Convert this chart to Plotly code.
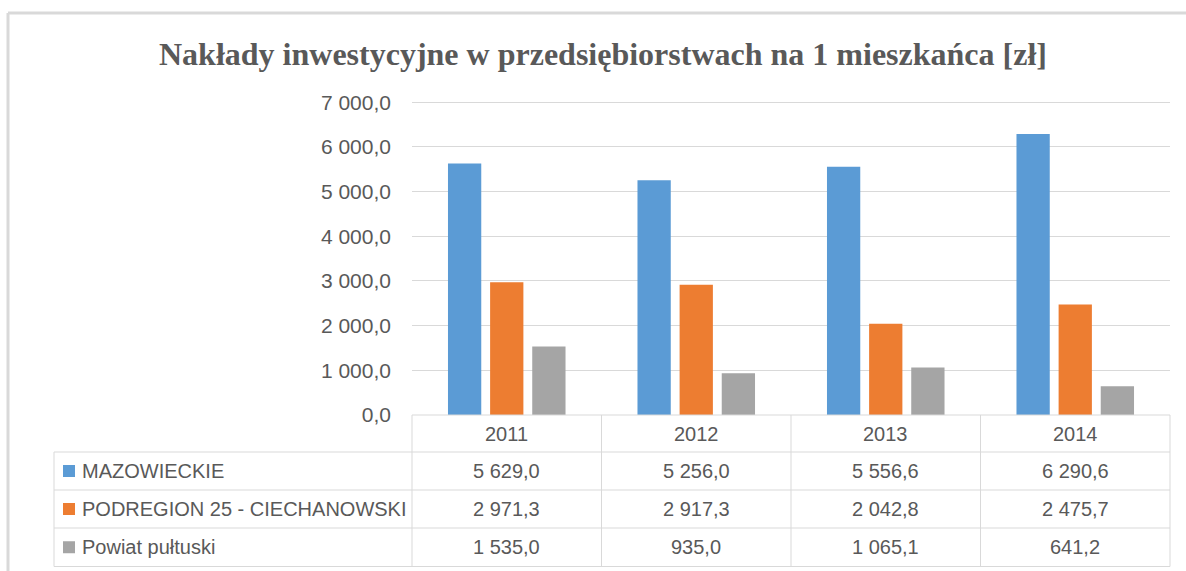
import plotly.graph_objects as go

years = ["2011", "2012", "2013", "2014"]
series_names = ["MAZOWIECKIE", "PODREGION 25 - CIECHANOWSKI", "Powiat pułtuski"]
mazowieckie = [5629.0, 5256.0, 5556.6, 6290.6]
ciechanowski = [2971.3, 2917.3, 2042.8, 2475.7]
pultuski = [1535.0, 935.0, 1065.1, 641.2]
colors = ["#5b9bd5", "#ed7d31", "#a5a5a5"]
title = "Nakłady inwestycyjne w przedsiębiorstwach na 1 mieszkańca [zł]"

series = [mazowieckie, ciechanowski, pultuski]

W, H = 1186, 571
L, R, T, B = 412, 16, 100, 156
PW, PH = W - L - R, H - T - B
TXT = "#595959"
GRID = "#d9d9d9"
FONT = "Liberation Sans"
FS = 20
N = len(years)


def px(xp):
    return (xp - L) / PW


def py(yp):
    return (H - B - yp) / PH


def fmt(v):
    return f"{v:,.1f}".replace(",", " ").replace(".", ",")


fig = go.Figure()
for name, vals, c in zip(series_names, series, colors):
    fig.add_trace(go.Bar(x=years, y=vals, name=name, marker_color=c,
                         marker_line_width=0, showlegend=False))

shapes = []
annotations = []
line = dict(color=GRID, width=1)
# table horizontal lines
row_y = [415, 452, 490, 528, 566.5]
shapes.append(dict(type="line", xref="paper", yref="paper", x0=0, x1=1,
                   y0=py(row_y[0]), y1=py(row_y[0]), line=line))
for yy in row_y[1:]:
    shapes.append(dict(type="line", xref="paper", yref="paper", x0=px(54), x1=1,
                       y0=py(yy), y1=py(yy), line=line))
# vertical lines
for i in range(N + 1):
    shapes.append(dict(type="line", xref="paper", yref="paper", x0=i / N,
                       x1=i / N, y0=py(415), y1=py(566.5), line=line))
shapes.append(dict(type="line", xref="paper", yref="paper", x0=px(54), x1=px(54),
                   y0=py(452), y1=py(566.5), line=line))

# header years
for i, yr in enumerate(years):
    annotations.append(dict(x=(i + 0.5) / N, xref="paper", y=py(433.5), yref="paper", text=yr,
                            showarrow=False, font=dict(family=FONT, size=FS, color=TXT),
                            xanchor="center", yanchor="middle"))
# rows
for r, (name, vals, c) in enumerate(zip(series_names, series, colors)):
    cy = (row_y[r + 1] + row_y[r + 2]) / 2
    shapes.append(dict(type="rect", xref="paper", yref="paper", x0=px(63), x1=px(75),
                       y0=py(cy + 6), y1=py(cy - 6), fillcolor=c, line=dict(width=0)))
    annotations.append(dict(x=px(80), xref="paper", y=py(cy), yref="paper", text=name,
                            showarrow=False, font=dict(family=FONT, size=FS, color=TXT),
                            xanchor="left", yanchor="middle"))
    for i, v in enumerate(vals):
        annotations.append(dict(x=(i + 0.5) / N, xref="paper", y=py(cy), yref="paper",
                                text=fmt(v), showarrow=False,
                                font=dict(family=FONT, size=FS, color=TXT),
                                xanchor="center", yanchor="middle"))

# outer frame
frame = dict(color="#d9d9d9", width=3)
shapes.append(dict(type="line", xref="paper", yref="paper", x0=px(8), x1=px(8),
                   y0=py(571), y1=py(13), line=frame))
shapes.append(dict(type="line", xref="paper", yref="paper", x0=px(8), x1=px(1186),
                   y0=py(13), y1=py(13), line=frame))

annotations.append(dict(x=px(603), xref="paper", y=py(54), yref="paper", text=f"<b>{title}</b>",
                        showarrow=False, font=dict(family="Liberation Serif", size=32, color=TXT),
                        xanchor="center", yanchor="middle"))

fig.update_layout(
    width=W, height=H,
    margin=dict(l=L, r=R, t=T, b=B, autoexpand=False),
    plot_bgcolor="white", paper_bgcolor="white",
    barmode="group", bargap=0.333, bargroupgap=0.21,
    separators=", ",
    shapes=shapes, annotations=annotations,
    xaxis=dict(type="category", range=[-0.5, N - 0.5], showticklabels=False, showgrid=False,
               zeroline=False, showline=False, ticks=""),
    yaxis=dict(range=[0, 7050], tickvals=[0, 1000, 2000, 3000, 4000, 5000, 6000, 7000],
               tickformat=",.1f", showgrid=True,
               gridcolor=GRID, gridwidth=1, zeroline=False, showline=False, ticks="",
               ticklabelstandoff=20,
               tickfont=dict(family=FONT, size=21, color=TXT)),
)

fig.write_html("out.html", config={"displayModeBar": False},
               post_script="document.body.style.margin='0';")
